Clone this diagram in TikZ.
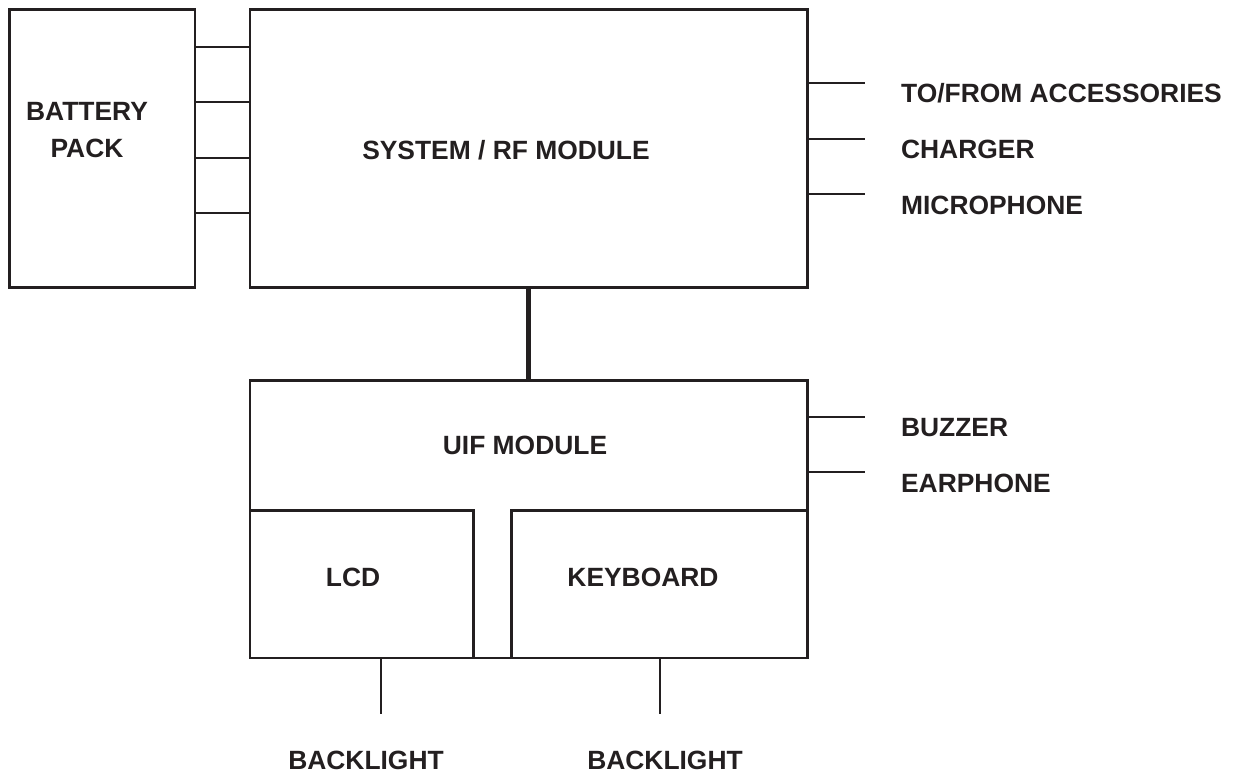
\documentclass[tikz,border=0pt]{standalone}
\usepackage{fontspec}
\setmainfont{Liberation Sans}
\usetikzlibrary{fit}
\definecolor{tinta}{HTML}{231F20}
\tikzset{
  caja/.style={draw, inner sep=0pt, outer sep=0pt},
  rotulo/.style={font=\fontsize{13.2pt}{18.5pt}\selectfont\bfseries, inner sep=0pt},
  linea/.style={text height=9.45pt, text depth=0pt},
}
\begin{document}
\begin{tikzpicture}[x=0.5pt, y=-0.5pt, line width=1.1pt, color=tinta]
  \useasboundingbox (0,0) rectangle (1236,775);
  % las cajas grandes
  \node[caja, fit={(9.5,9.5) (195,287.5)}] (bat) {};
  \node[caja, fit={(250,9.5) (807.5,287.5)}] (sys) {};
  \node[caja, fit={(250,380.5) (807.5,658)}] (uif) {};
  % las dos cajas dentro del modulo UIF
  \node[caja, fit={(250,510.5) (473.5,658)}] (lcd) {};
  \node[caja, fit={(511.5,510.5) (807.5,658)}] (kbd) {};
  % la bateria con el modulo de sistema
  \foreach \y in {46.7,101.7,157.7,213.3} {
    \draw (bat.east |- 0,\y) -- (sys.west |- 0,\y);
  }
  % el bus grueso entre los dos modulos
  \draw[line width=2.4pt] (sys.south) -- (uif.north);
  % las salidas a la derecha
  \foreach \y in {83,139,194} {
    \draw (sys.east |- 0,\y) -- ++(57,0);
  }
  \foreach \y in {417,472} {
    \draw (uif.east |- 0,\y) -- ++(57,0);
  }
  % las salidas de abajo
  \foreach \x in {381,660} {
    \draw (\x,0 |- uif.south) -- ++(0,56);
  }
  % los rotulos
  \node[rotulo, align=center] (batlbl) at (87,130.5) {BATTERY\\PACK};
  \node[rotulo, linea] (syslbl) at (506,150) {SYSTEM / RF MODULE};
  \node[rotulo, linea] (uiflbl) at (525,445) {UIF MODULE};
  \node[rotulo, linea] (lcdlbl) at (353,577) {LCD};
  \node[rotulo, linea] (kbdlbl) at (643,577) {KEYBOARD};
  \node[rotulo, linea, anchor=west] (acc) at (900,93) {TO/FROM ACCESSORIES};
  \node[rotulo, linea, anchor=west] (chg) at (900,149) {CHARGER};
  \node[rotulo, linea, anchor=west] (mic) at (900,205) {MICROPHONE};
  \node[rotulo, linea, anchor=west] (buz) at (900,427) {BUZZER};
  \node[rotulo, linea, anchor=west] (ear) at (900,483) {EARPHONE};
  \node[rotulo, linea] (bl1) at (366,760) {BACKLIGHT};
  \node[rotulo, linea] (bl2) at (665,760) {BACKLIGHT};
\end{tikzpicture}
\end{document}
